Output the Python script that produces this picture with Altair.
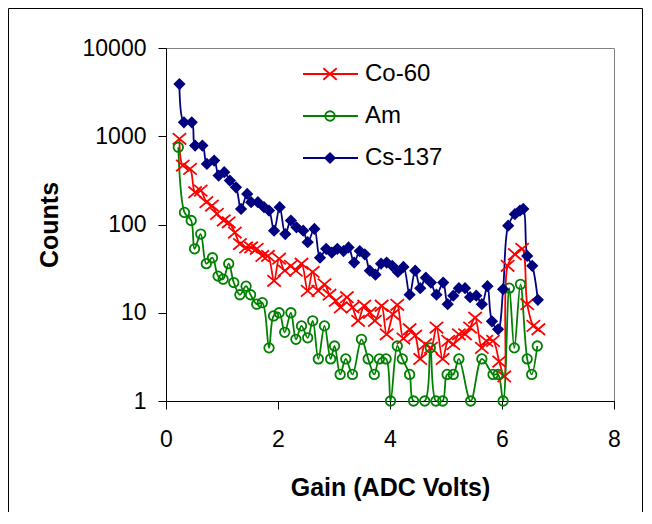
import altair as alt
import pandas as pd

FONT = "Liberation Sans"

series_names = ["Co-60", "Am", "Cs-137"]
series_colors = ["#FF0000", "#008000", "#000080"]

co_x = [0.24, 0.30, 0.43, 0.52, 0.62, 0.72, 0.82, 0.91, 1.03, 1.12,
        1.23, 1.32, 1.43, 1.52, 1.62, 1.72, 1.82, 1.93, 2.02, 2.12,
        2.23, 2.32, 2.42, 2.53, 2.62, 2.72, 2.83, 2.92, 3.03, 3.12,
        3.23, 3.33, 3.43, 3.54, 3.64, 3.73, 3.85, 3.94, 4.05, 4.13,
        4.24, 4.35, 4.45, 4.54, 4.63, 4.73, 4.83, 4.94, 5.04, 5.13,
        5.23, 5.34, 5.43, 5.52, 5.64, 5.72, 5.84, 5.95, 6.04, 6.10,
        6.23, 6.36, 6.45, 6.56, 6.65]
co_y = [935, 465, 427, 232, 242, 179, 164, 132, 111, 106,
        81, 60, 55, 55, 53, 44, 44, 23, 41, 30,
        34, 30, 36, 17.7, 29, 17.7, 21, 16, 13.6, 11.5,
        15, 11.5, 8.1, 12, 10, 8.1, 12, 5.7, 9.6, 12.3,
        5.1, 6.5, 5.5, 3.0, 4.4, 4.0, 6.8, 3.0, 4.8, 4.4,
        5.7, 5.7, 6.8, 8.8, 4.0, 4.8, 4.8, 2.8, 1.9, 34,
        46, 53, 12.5, 7.1, 6.5]

am_x = [0.22, 0.33, 0.45, 0.51, 0.62, 0.72, 0.83, 0.93, 1.02, 1.12,
        1.21, 1.32, 1.43, 1.51, 1.62, 1.72, 1.84, 1.92, 2.02, 2.12,
        2.23, 2.32, 2.42, 2.53, 2.62, 2.72, 2.83, 2.94, 3.01, 3.11,
        3.21, 3.33, 3.49, 3.61, 3.72, 3.81, 3.93, 4.01, 4.13, 4.22,
        4.35, 4.42, 4.62, 4.72, 4.82, 4.94, 5.02, 5.13, 5.23, 5.44,
        5.64, 5.84, 5.93, 6.02, 6.13, 6.22, 6.33, 6.45, 6.53, 6.63]
am_y = [751, 137, 111, 53, 78, 36, 42, 26, 24, 36,
        22, 16, 20, 16, 12.5, 13, 4.0, 9.2, 10, 6,
        10, 5, 7.1, 5.2, 8.1, 3, 7.1, 3, 4.2, 2,
        3, 2, 5, 3, 2, 3, 3, 1, 4.2, 3,
        2, 1, 1, 4, 1, 1, 2, 2, 3, 1,
        3, 2, 2, 1, 19, 4, 21, 3, 2, 4.2]

cs_x = [0.24, 0.32, 0.46, 0.52, 0.65, 0.73, 0.86, 0.94, 1.04, 1.14,
        1.25, 1.34, 1.45, 1.52, 1.64, 1.75, 1.84, 1.93, 2.03, 2.13,
        2.23, 2.33, 2.45, 2.53, 2.65, 2.75, 2.86, 2.96, 3.06, 3.17,
        3.26, 3.36, 3.46, 3.55, 3.64, 3.74, 3.84, 3.94, 4.04, 4.14,
        4.24, 4.35, 4.45, 4.54, 4.64, 4.73, 4.83, 4.95, 5.03, 5.13,
        5.23, 5.34, 5.43, 5.54, 5.64, 5.74, 5.82, 5.93, 6.02, 6.11,
        6.23, 6.32, 6.38, 6.45, 6.54, 6.64]
cs_y = [3900, 1440, 1440, 785, 785, 486, 530, 358, 391, 315,
        264, 150, 222, 179, 179, 157, 144, 85, 157, 78,
        111, 93, 85, 63, 89, 42, 53, 48, 53, 50,
        55, 37, 50, 46, 30, 27, 36, 37, 34, 29,
        33, 16, 30, 19, 25, 22, 16, 22, 12.5, 15.6,
        19, 19, 15, 15.6, 12.5, 20, 8, 6.5, 18.5, 97,
        131, 144, 150, 44, 34, 14]

x_ticks = [0, 2, 4, 6, 8]
y_ticks = [1, 10, 100, 1000, 10000]

rows = []
for name, xs, ys in [("Co-60", co_x, co_y), ("Am", am_x, am_y), ("Cs-137", cs_x, cs_y)]:
    for i, (gx, cy) in enumerate(zip(xs, ys)):
        rows.append({"series": name, "gain": gx, "counts": cy, "idx": i})
df = pd.DataFrame(rows)

legend_df = pd.DataFrame({"series": series_names, "row": [0, 1, 2]})

x_enc = alt.X(
    "gain:Q",
    scale=alt.Scale(domain=[0, 8], nice=False, zero=False),
    axis=alt.Axis(
        values=x_ticks, format="d", title="Gain (ADC Volts)", grid=False,
        tickSize=8, tickColor="black", domainColor="black",
        labelFont=FONT, labelFontSize=23, labelColor="black", labelPadding=19,
        labelFlush=False, labelOverlap=False,
        titleFont=FONT, titleFontSize=25, titleFontWeight="bold", titleColor="black",
        titleY=94, titleBaseline="alphabetic",
    ),
)
y_enc = alt.Y(
    "counts:Q",
    scale=alt.Scale(type="log", domain=[1, 10000], nice=False),
    axis=alt.Axis(
        values=y_ticks, format="d", title="Counts", grid=False,
        tickSize=8, tickColor="black", domainColor="black",
        labelFont=FONT, labelFontSize=23, labelColor="black", labelPadding=12,
        labelOverlap=False,
        titleFont=FONT, titleFontSize=25, titleFontWeight="bold", titleColor="black",
        titleX=-109, titleY=176.5, titleAngle=270, titleBaseline="alphabetic",
        titleAlign="center",
    ),
)

color_scale = alt.Scale(domain=series_names, range=series_colors)
color_enc = alt.Color("series:N", scale=color_scale, legend=None)

X_PATH = "M-1,-0.85L1,0.85M-1,0.85L1,-0.85"
DIAMOND_PATH = "M0,-1L1,0L0,1L-1,0Z"
# per-series marker style: (shape, size, filled)
marker_style = {
    "Co-60": (X_PATH, 180, False),
    "Am": ("circle", 90, False),
    "Cs-137": (DIAMOND_PATH, 150, True),
}

lines = alt.Chart(df).mark_line(
    interpolate="catmull-rom", strokeWidth=1.8, clip=True
).encode(x=x_enc, y=y_enc, color=color_enc, order="idx:Q")

point_layers = []
legend_mark_layers = []
leg_y = alt.Y("py:Q", scale=None)
for name in series_names:
    shp, sz, filled = marker_style[name]
    point_layers.append(
        alt.Chart(df).transform_filter(alt.datum.series == name).mark_point(
            shape=shp, size=sz, filled=filled, strokeWidth=1.8, opacity=1
        ).encode(x=x_enc, y=y_enc, color=color_enc)
    )
    legend_mark_layers.append(
        alt.Chart(legend_df).transform_filter(alt.datum.series == name)
        .transform_calculate(py="26 + 42 * datum.row")
        .mark_point(shape=shp, size=sz, filled=filled, strokeWidth=1.8, opacity=1)
        .encode(x=alt.value(164), y=leg_y, color=color_enc)
    )

# legend (inside the plot area, Excel style): line + marker + label per series
leg_base = alt.Chart(legend_df).transform_calculate(py="26 + 42 * datum.row")
leg_lines = leg_base.mark_rule(strokeWidth=2).encode(
    x=alt.value(137), x2=alt.value(192), y=leg_y, color=color_enc)
leg_text = leg_base.mark_text(
    align="left", baseline="middle", font=FONT, fontSize=24, color="black"
).encode(x=alt.value(199), y=leg_y, text="series:N")

frame_df = pd.DataFrame({"k": [0]})
frame_left = alt.Chart(frame_df).mark_rule(color="black", strokeWidth=1).encode(
    x=alt.value(-157.5), y=alt.value(-39.5), y2=alt.value(464))
frame_top = alt.Chart(frame_df).mark_rule(color="black", strokeWidth=1).encode(
    x=alt.value(-157.5), x2=alt.value(476.5), y=alt.value(-39.5))
frame_right = alt.Chart(frame_df).mark_rule(color="black", strokeWidth=1).encode(
    x=alt.value(476.5), y=alt.value(-39.5), y2=alt.value(464))

chart = alt.layer(
    lines, *point_layers, leg_lines, *legend_mark_layers, leg_text,
    frame_left, frame_top, frame_right
).properties(
    width=448, height=353, padding=0, background="white"
).configure_view(
    stroke="#808080", strokeWidth=1
)

chart.save("out.html", embed_options={"renderer": "svg", "actions": False})
